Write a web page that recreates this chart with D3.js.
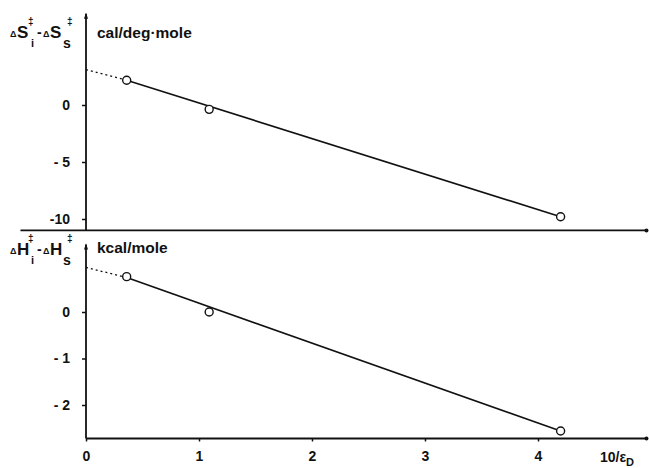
<!DOCTYPE html>
<html>
<head>
<meta charset="utf-8">
<script src="https://cdn.jsdelivr.net/npm/d3@7"></script>
<style>
  body { margin: 0; background: #fff; }
  svg text { font-family: "Liberation Sans", Arial, sans-serif; font-weight: bold; fill: #111; }
</style>
</head>
<body>
<div id="chart"></div>
<script>
// measured points (x = 10/eps)
const xVals = [0.36, 1.09, 4.2];
const dS = [2.17, -0.38, -9.8];
const dH = [0.76, 0.0, -2.56];

// fitted lines: x=0 (extrapolated, dashed) -> first point -> last point
const fitX = [0, 0.36, 4.2];
const fitS = [3.1, 2.17, -9.8];
const fitH = [0.96, 0.74, -2.56];

const xTicks = [0, 1, 2, 3, 4];
const sTicks = [0, -5, -10];
const hTicks = [0, -1, -2];

const svg = d3.select('#chart').append('svg')
    .attr('width', 649)
    .attr('height', 468);

const x = d3.scaleLinear().domain([0, 4]).range([86, 538]);
const yS = d3.scaleLinear().domain([0, -10]).range([105, 219]);
const yH = d3.scaleLinear().domain([0, -2]).range([312, 405]);

const fmt = d => d < 0 && d > -10 ? '- ' + Math.abs(d) : (d < 0 ? '-' + Math.abs(d) : d);

function panel(y, yTicks, pts, fit, yTopVal, yBotVal, xLeft) {
    const g = svg.append('g');

    // y axis line
    g.append('line')
        .attr('x1', x(0)).attr('x2', x(0))
        .attr('y1', y(yTopVal)).attr('y2', y(yBotVal))
        .attr('stroke', '#111').attr('stroke-width', 1.8);
    // small arrow head on top
    g.append('path')
        .attr('d', `M${x(0) - 2},${y(yTopVal) + 5} L${x(0)},${y(yTopVal) - 1} L${x(0) + 2},${y(yTopVal) + 5} Z`)
        .attr('fill', '#111');

    // x axis line
    g.append('line')
        .attr('x1', x(xLeft)).attr('x2', x(4.96))
        .attr('y1', y(yBotVal)).attr('y2', y(yBotVal))
        .attr('stroke', '#111').attr('stroke-width', 1.8);
    g.append('circle')
        .attr('cx', x(4.96)).attr('cy', y(yBotVal)).attr('r', 2)
        .attr('fill', '#111');

    // y ticks
    const ya = g.append('g')
        .attr('transform', `translate(${x(0)},0)`)
        .call(d3.axisLeft(y).tickValues(yTicks).tickSize(4).tickPadding(12).tickFormat(fmt));
    ya.select('.domain').remove();
    ya.selectAll('line').attr('stroke', '#111').attr('stroke-width', 1.5);
    ya.selectAll('text')
        .style('font-size', '14px')
        .style('font-family', '"Liberation Sans", Arial, sans-serif')
        .style('font-weight', 'bold')
        .attr('fill', '#111');

    // fit line: dashed extrapolation then solid
    const line = d3.line().x(d => x(d[0])).y(d => y(d[1]));
    const fitPts = fitX.map((v, i) => [v, fit[i]]);
    g.append('path')
        .attr('d', line(fitPts.slice(0, 2)))
        .attr('fill', 'none').attr('stroke', '#111')
        .attr('stroke-width', 1.3).attr('stroke-dasharray', '2,3');
    g.append('path')
        .attr('d', line(fitPts.slice(1)))
        .attr('fill', 'none').attr('stroke', '#111')
        .attr('stroke-width', 1.6);

    // data points
    g.selectAll('circle.pt')
        .data(xVals.map((v, i) => [v, pts[i]]))
        .enter()
        .append('circle')
        .attr('class', 'pt')
        .attr('cx', d => x(d[0]))
        .attr('cy', d => y(d[1]))
        .attr('r', 4)
        .attr('fill', '#fff')
        .attr('stroke', '#111')
        .attr('stroke-width', 1.4);
    return g;
}

panel(yS, sTicks, dS, fitS, 8, -11, -0.58);
panel(yH, hTicks, dH, fitH, 1.45, -2.72, 0);

// x axis ticks of the lower panel
const xa = svg.append('g')
    .attr('transform', `translate(0,${yH(-2.72)})`)
    .call(d3.axisBottom(x).tickValues(xTicks).tickSize(3).tickPadding(10).tickFormat(d3.format('d')));
xa.select('.domain').remove();
xa.selectAll('line').attr('stroke', '#111').attr('stroke-width', 1.5);
xa.selectAll('text')
    .style('font-size', '14px')
    .style('font-family', '"Liberation Sans", Arial, sans-serif')
    .style('font-weight', 'bold')
    .attr('fill', '#111');

// axis label of x
const xl = svg.append('text').attr('x', 600).attr('y', 462).style('font-size', '14px');
xl.append('tspan').text('10/ε');
xl.append('tspan').attr('dy', 4).style('font-size', '11px').text('D');

// y labels: ΔX‡i - ΔX‡s, pieces placed one by one inside one text
function deltaLabel(base, letter) {
    const t = svg.append('text').attr('y', base);
    const parts = [
        { s: 'Δ', x: 10, dy: -1, size: 9 },
        { s: letter, x: 17, dy: 0, size: 17 },
        { s: '‡', x: 28, dy: -13, size: 10 },
        { s: 'i', x: 31, dy: 9, size: 11 },
        { s: '-', x: 37, dy: -1, size: 14 },
        { s: 'Δ', x: 43, dy: -1, size: 9 },
        { s: letter, x: 50, dy: 0, size: 17 },
        { s: 's', x: 63, dy: 10, size: 14 },
        { s: '‡', x: 67, dy: -13, size: 10 }
    ];
    parts.forEach(p => {
        t.append('tspan')
            .attr('x', p.x)
            .attr('y', base + p.dy)
            .style('font-size', p.size + 'px')
            .text(p.s);
    });
}

deltaLabel(38, 'S');
deltaLabel(255, 'H');

svg.append('text').attr('x', 97).attr('y', 38).style('font-size', '15.5px').text('cal/deg·mole');
svg.append('text').attr('x', 97).attr('y', 253).style('font-size', '15.5px').text('kcal/mole');
</script>
</body>
</html>
